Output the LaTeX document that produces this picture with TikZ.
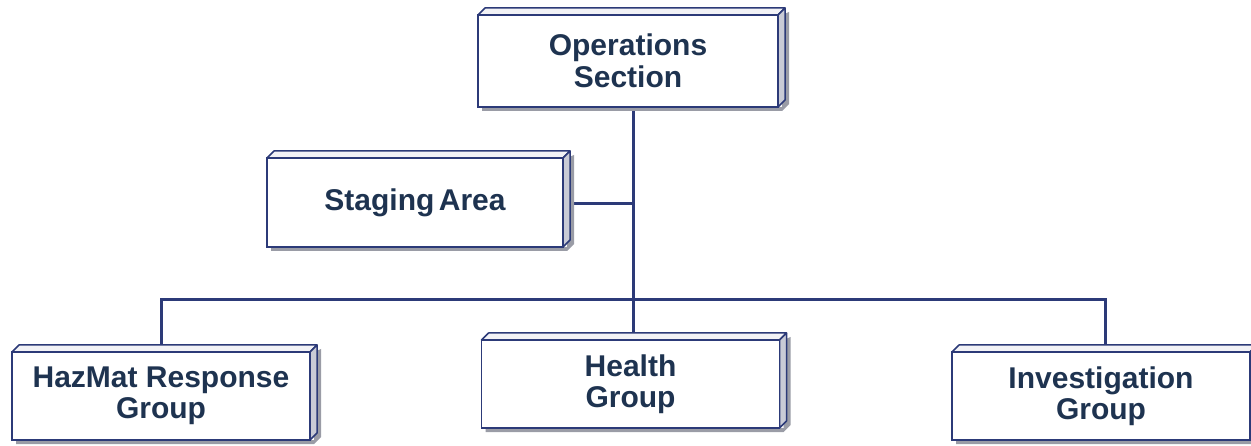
\documentclass[tikz,border=0pt]{standalone}
\usepackage{fontspec}
\setmainfont{Liberation Sans}
\usetikzlibrary{calc}
\pgfdeclarelayer{background}
\pgfsetlayers{background,main}
\definecolor{navy}{HTML}{2C3A78}
\definecolor{txt}{HTML}{1E3350}
\definecolor{sideface}{HTML}{C9CBD6}
\definecolor{topface}{HTML}{F2F2F6}
\definecolor{shadowc}{HTML}{9A9CA6}
\tikzset{
  orgbox/.style={draw=navy, line width=1.8pt, fill=white, outer sep=0pt, inner sep=0pt,
    minimum width=298pt, minimum height=89pt, align=center, text=txt,
    font=\bfseries\fontsize{30}{31.5}\selectfont},
  link/.style={draw=navy, line width=3pt},
  face/.style={draw=navy, line width=1.5pt, line join=round},
}
\newcommand\deco[1]{%
  \fill[shadowc] ($(#1.north east)+(11,-3)$) -- ($(#1.south east)+(11,-3)$) -- ($(#1.south east)+(4,4)$) -- ($(#1.south west)+(4,4)$) -- ($(#1.south west)+(4,0)$) -- ($(#1.south east)+(4,0)$) -- ($(#1.north east)+(4,0)$) -- cycle;
  \draw[face, fill=topface] (#1.north west) -- ++(7,-7) -- ($(#1.north east)+(7,-7)$) -- (#1.north east) -- cycle;
  \draw[face, fill=sideface] (#1.north east) -- ++(7,-7) -- ($(#1.south east)+(7,-7)$) -- (#1.south east) -- cycle;
}
\begin{document}
\begin{tikzpicture}[x=1pt, y=-1pt]
\useasboundingbox (0,0) rectangle (1251,446);
\node[orgbox, minimum width=300pt, minimum height=92pt] (ops) at (628,61) {Operations\\Section};
\node[orgbox, minimum width=296pt] (stage) at (415,202.5) {Staging\hspace{0.15em}Area};
\node[orgbox, minimum height=88pt] (haz) at (161,396) {HazMat Response\\Group};
\node[orgbox, minimum height=88pt] (health) at (630.5,384) {Health\\Group};
\node[orgbox, minimum height=88pt] (inv) at (1101,396) {Investigation\\Group};
\coordinate (bus) at (633,300);
\coordinate (stj) at (633,204);
\coordinate (invj) at (1105,300);
\begin{pgfonlayer}{background}
\draw[link] (ops.south -| bus) -- (health.north -| bus);
\draw[link] (stage.east |- stj) -- (stj);
\draw[link] (haz.north) -- (haz.north |- bus) -- (invj) -- (inv.north -| invj);
\deco{ops}
\deco{stage}
\deco{haz}
\deco{health}
\deco{inv}
\end{pgfonlayer}
\end{tikzpicture}
\end{document}
